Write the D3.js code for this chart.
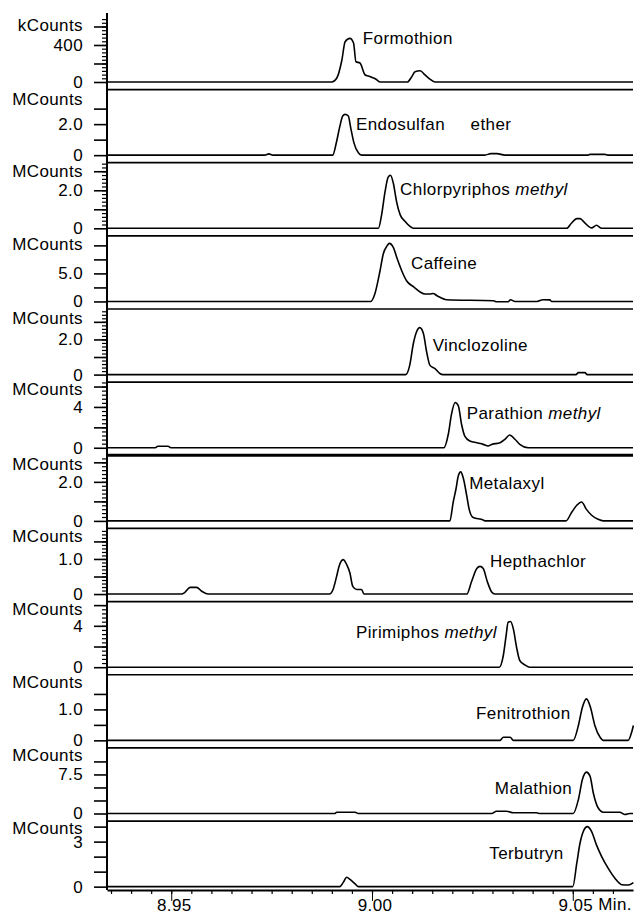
<!DOCTYPE html>
<html>
<head>
<meta charset="utf-8">
<script src="https://cdn.jsdelivr.net/npm/d3@7"></script>
<style>
  body { margin: 0; background: #fff; }
  text { font-family: "Liberation Sans", Arial, sans-serif; font-size: 17px; fill: #000; letter-spacing: 0.4px; }
</style>
</head>
<body>
<svg id="chart" width="634" height="914"></svg>
<script>
// chromatogram traces, [time (min), intensity]
// first trace in kCounts, all the others in MCounts
const formothion = [[8.934,0],[8.9900,0],[8.9912,40],[8.9925,238],[8.9933,436],[8.9945,472],[8.9954,422],[8.9960,219],[8.9970,205],[8.9983,76],[8.9991,65],[8.9999,51],[9.0008,36],[9.0020,0],[9.0088,0],[9.0099,57],[9.0107,111],[9.0120,122],[9.0132,76],[9.0145,29],[9.0157,0],[9.065,0]]
const endosulfanEther = [[8.934,0],[8.9733,0],[8.9743,0.08],[8.9753,0],[8.9902,0],[8.9912,0.9],[8.9920,1.87],[8.9927,2.52],[8.9933,2.63],[8.9941,2.52],[8.9947,1.76],[8.9955,0.79],[8.9966,0.15],[8.9974,0],[9.0281,0],[9.0296,0.1],[9.0311,0.1],[9.0331,0],[9.0538,0],[9.0543,0.05],[9.0580,0.05],[9.0587,0],[9.065,0]]
const chlorpyriphos = [[8.934,0],[9.0016,0],[9.0024,0.72],[9.0032,1.86],[9.0040,2.68],[9.0046,2.79],[9.0053,2.38],[9.0061,1.42],[9.0070,0.72],[9.0082,0.37],[9.0094,0.11],[9.0103,0],[9.0485,0],[9.0497,0.28],[9.0510,0.51],[9.0518,0.51],[9.0530,0.28],[9.0547,0.02],[9.0559,0.16],[9.0572,0],[9.065,0]]
const caffeine = [[8.934,0],[8.9997,0],[9.0007,1.32],[9.0020,5.48],[9.0028,8.47],[9.0038,9.95],[9.0043,10.36],[9.0053,9.64],[9.0063,7.57],[9.0074,5.48],[9.0086,3.70],[9.0103,2.63],[9.0119,1.73],[9.0132,1.32],[9.0144,1.32],[9.0152,1.43],[9.0162,1.02],[9.0186,0.3],[9.0302,0.12],[9.0310,-0.05],[9.0339,-0.05],[9.0345,0.3],[9.0356,0],[9.0411,0],[9.0426,0.3],[9.0443,0.28],[9.0447,0],[9.065,0]]
const vinclozoline = [[8.934,0],[9.0084,0],[9.0094,0.54],[9.0103,1.77],[9.0111,2.44],[9.0119,2.67],[9.0128,2.34],[9.0136,1.30],[9.0144,0.54],[9.0157,0.34],[9.0169,0.06],[9.0177,0],[9.0508,0],[9.0514,0.11],[9.0530,0.11],[9.0536,0],[9.065,0]]
const parathion = [[8.934,0],[8.9460,0],[8.9467,0.15],[8.9492,0.15],[8.9499,0],[9.0179,0],[9.0190,1.32],[9.0198,3.29],[9.0207,4.43],[9.0215,4.11],[9.0223,2.30],[9.0231,1.15],[9.0244,0.66],[9.0261,0.49],[9.0277,0.33],[9.0289,0.17],[9.0298,0.33],[9.0319,0.49],[9.0331,0.83],[9.0343,1.25],[9.0356,0.83],[9.0368,0.33],[9.0389,0],[9.065,0]]
const metalaxyl = [[8.934,0],[9.0194,0],[9.0202,0.94],[9.0209,1.62],[9.0215,2.31],[9.0221,2.51],[9.0227,2.22],[9.0236,1.28],[9.0242,0.59],[9.0252,0.17],[9.0277,0.05],[9.0281,0],[9.0483,0],[9.0497,0.43],[9.0510,0.80],[9.0522,0.97],[9.0534,0.59],[9.0547,0.29],[9.0563,0.08],[9.0576,0],[9.065,0]]
const hepthachlor = [[8.934,0],[8.9526,0],[8.9534,0.05],[8.9547,0.19],[8.9563,0.19],[8.9576,0.08],[8.9592,0],[8.9894,0],[8.9903,0.13],[8.9912,0.51],[8.9918,0.79],[8.9928,0.98],[8.9937,0.84],[8.9945,0.60],[8.9952,0.22],[8.9962,0.13],[8.9974,0.13],[8.9980,0],[9.0236,0],[9.0248,0.36],[9.0261,0.73],[9.0269,0.79],[9.0277,0.73],[9.0287,0.36],[9.0298,0.06],[9.0306,0],[9.065,0]]
const pirimiphos = [[8.934,0],[9.0317,0],[9.0327,1.13],[9.0334,3.06],[9.0339,4.35],[9.0345,4.41],[9.0352,3.70],[9.0360,1.93],[9.0368,0.65],[9.0381,0.22],[9.0393,0],[9.065,0]]
const fenitrothion = [[8.934,0],[9.0319,0],[9.0327,0.1],[9.0344,0.1],[9.0352,0],[9.0501,0],[9.0514,0.48],[9.0524,1.07],[9.0534,1.34],[9.0544,1.07],[9.0555,0.48],[9.0568,0.1],[9.0576,0],[9.0638,0],[9.0647,0.28],[9.0651,0.48]]
const malathion = [[8.934,0],[8.9908,0],[8.9912,0.25],[8.9958,0.25],[8.9966,0],[9.0298,0],[9.0310,0.44],[9.0335,0.44],[9.0352,0.13],[9.0410,0.13],[9.0418,0],[9.0501,0],[9.0514,2.69],[9.0524,6.54],[9.0534,7.94],[9.0543,7.17],[9.0551,3.98],[9.0563,1.10],[9.0576,0.25],[9.0617,0.25],[9.0630,-0.2],[9.0642,0],[9.065,0]]
const terbutryn = [[8.934,0],[8.9920,0],[8.9928,0.27],[8.9937,0.63],[8.9945,0.49],[8.9958,0.18],[8.9966,0],[9.0500,0],[9.0510,1.56],[9.0518,2.89],[9.0528,3.78],[9.0536,4.0],[9.0547,3.67],[9.0559,2.78],[9.0572,2.0],[9.0588,1.23],[9.0605,0.56],[9.0622,0.13],[9.0638,0.11],[9.0651,0.27]]

const traces = [formothion, endosulfanEther, chlorpyriphos, caffeine, vinclozoline, parathion,
                metalaxyl, hepthachlor, pirimiphos, fenitrothion, malathion, terbutryn]

// compound names: plain part, italic part
const names = [["Formothion",""],["Endosulfan     ether",""],["Chlorpyriphos ","methyl"],["Caffeine",""],
               ["Vinclozoline",""],["Parathion ","methyl"],["Metalaxyl",""],["Hepthachlor",""],
               ["Pirimiphos ","methyl"],["Fenitrothion",""],["Malathion",""],["Terbutryn",""]]
// where the name sits, [time, intensity]
const nameAt = [[8.9977,476],[8.9960,2.02],[9.0070,2.04],[9.0097,6.86],[9.0151,1.68],[9.0236,3.45],
                [9.0242,1.93],[9.0294,0.95],[8.9960,3.38],[9.0259,0.89],[9.0306,4.94],[9.0292,2.23]]

// y axes
const units = ["kCounts","MCounts","MCounts","MCounts","MCounts","MCounts","MCounts","MCounts","MCounts","MCounts","MCounts","MCounts"]
const unitAt = [620, 3.6, 3.0, 10.3, 3.24, 5.75, 2.9, 1.65, 5.6, 1.88, 11.2, 3.93]
const yTop = [709, 4.23, 3.45, 11.7, 3.73, 6.43, 3.36, 1.87, 6.34, 2.12, 12.6, 4.37]
const yMajor = [[0,200,400,600],[0,1,2,3],[0,1,2,3],[0,2.5,5,7.5,10],[0,1,2,3],[0,2,4,6],
                [0,1,2,3],[0,0.5,1,1.5],[0,2,4,6],[0,0.5,1,1.5],[0,2.5,5,7.5,10],[0,1,2,3,4]]
const yLabels = [{0:"0",400:"400"},{0:"0",2:"2.0"},{0:"0",2:"2.0"},{0:"0",5:"5.0"},{0:"0",2:"2.0"},{0:"0",4:"4"},
                 {0:"0",2:"2.0"},{0:"0",1:"1.0"},{0:"0",4:"4"},{0:"0",1:"1.0"},{0:"0",7.5:"7.5"},{0:"0",3:"3"}]
const yMinor = [40, 0, 0.2, 0, 0.2, 0.4, 0.2, 0.1, 0.4, 0, 0, 0]

// x axis
const xMajor = [8.95, 9.00, 9.05]
const xMinorStep = 0.005

const left = 107, right = 633
const base0 = 82, step = 73.15, panelH = 65.6

const svg = d3.select("#chart")

const x = d3.scaleLinear().domain([8.934, 9.065]).range([left, right])

const line = d3.line().curve(d3.curveMonotoneX)

traces.forEach((data, i) => {
    const base = base0 + i * step
    const y = d3.scaleLinear().domain([0, yTop[i]]).range([base, base - panelH])
    const g = svg.append("g").attr("class", "panel")

    if (i > 0) {
        g.append("line")
         .attr("x1", left).attr("x2", right)
         .attr("y1", base - panelH).attr("y2", base - panelH)
         .attr("stroke", "#000").attr("stroke-width", i == 6 ? 3 : 1.7)
    }

    if (yMinor[i]) {
        const minors = d3.range(yMinor[i], yTop[i], yMinor[i])
        g.append("g")
         .attr("transform", `translate(${left},0)`)
         .call(d3.axisLeft(y).tickValues(minors).tickSize(5).tickFormat(""))
         .call(a => a.select(".domain").remove())
         .call(a => a.selectAll("line").attr("stroke-width", 1.2))
    }

    g.append("g")
     .attr("transform", `translate(${left},0)`)
     .call(d3.axisLeft(y).tickValues(yMajor[i]).tickSize(13).tickPadding(11)
            .tickFormat(d => yLabels[i][d] || ""))
     .call(a => a.select(".domain").remove())
     .call(a => a.selectAll("line").attr("stroke-width", 1.6))

    g.append("text")
     .attr("x", left - 24)
     .attr("y", y(unitAt[i]))
     .attr("dy", "0.35em")
     .attr("text-anchor", "end")
     .text(units[i])

    g.append("path")
     .attr("d", line(data.map(d => [x(d[0]), y(d[1])])))
     .attr("fill", "none")
     .attr("stroke", "#000")
     .attr("stroke-width", 1.6)
     .attr("stroke-linejoin", "round")

    const lbl = g.append("text")
     .attr("x", x(nameAt[i][0]))
     .attr("y", y(nameAt[i][1]))
     .attr("dy", "0.35em")
     .style("white-space", "pre")
    lbl.append("tspan").text(names[i][0])
    if (names[i][1]) lbl.append("tspan").style("font-style", "italic").text(names[i][1])
})

// left axis line
const xAxisY = base0 + 11 * step + 3.3
svg.append("line")
   .attr("x1", left).attr("x2", left)
   .attr("y1", 13).attr("y2", xAxisY)
   .attr("stroke", "#000").attr("stroke-width", 2)

// bottom axis
svg.append("g")
   .attr("transform", `translate(0,${xAxisY})`)
   .call(d3.axisBottom(x).tickValues(d3.range(8.935, 9.065, xMinorStep)).tickSize(4).tickFormat(""))
   .call(a => a.select(".domain").remove())
   .call(a => a.selectAll("line").attr("stroke-width", 1.2))

svg.append("g")
   .attr("transform", `translate(0,${xAxisY})`)
   .call(d3.axisBottom(x).tickValues(xMajor).tickSize(11).tickSizeOuter(0).tickPadding(-2)
          .tickFormat(d3.format(".2f")))
   .call(a => a.select(".domain").attr("stroke-width", 2))
   .call(a => a.selectAll("text").attr("dx", "0.15em"))

svg.append("text")
   .attr("x", right - 1)
   .attr("y", 910)
   .attr("text-anchor", "end")
   .text("Min.")
</script>
</body>
</html>
